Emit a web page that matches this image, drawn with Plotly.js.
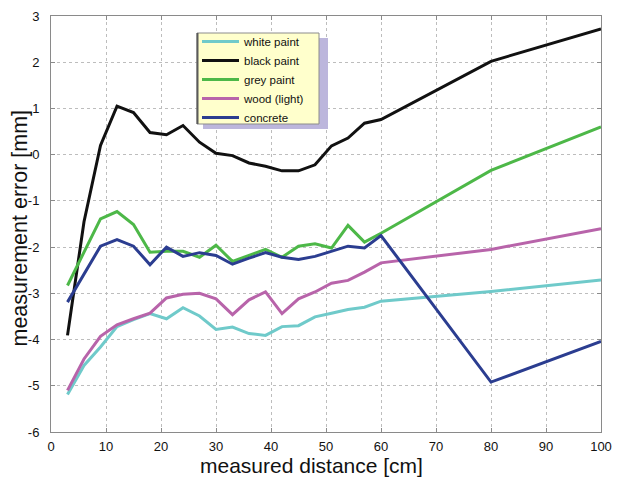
<!DOCTYPE html>
<html>
<head>
<meta charset="utf-8">
<script src="https://cdn.plot.ly/plotly-3.0.1.min.js"></script>
<style>html,body{margin:0;padding:0;background:#fff;}#chart{width:626px;height:477px;}</style>
</head>
<body>
<div id="chart"></div>
<script>
const distance = [3, 6, 9, 12, 15, 18, 21, 24, 27, 30, 33, 36, 39, 42, 45, 48, 51, 54, 57, 60, 80, 100];
const whitePaint = [-5.19, -4.56, -4.16, -3.72, -3.57, -3.44, -3.55, -3.31, -3.49, -3.78, -3.73, -3.87, -3.91, -3.72, -3.70, -3.51, -3.43, -3.35, -3.30, -3.17, -2.96, -2.71];
const blackPaint = [-3.91, -1.45, 0.20, 1.05, 0.91, 0.48, 0.43, 0.63, 0.27, 0.03, -0.02, -0.18, -0.25, -0.35, -0.35, -0.22, 0.19, 0.36, 0.68, 0.76, 2.02, 2.72];
const greyPaint = [-2.83, -2.10, -1.39, -1.23, -1.51, -2.11, -2.09, -2.09, -2.22, -1.96, -2.31, -2.18, -2.05, -2.22, -1.98, -1.93, -2.02, -1.53, -1.89, -1.70, -0.34, 0.60];
const woodLight = [-5.10, -4.42, -3.93, -3.68, -3.55, -3.43, -3.10, -3.02, -3.00, -3.12, -3.46, -3.14, -2.97, -3.44, -3.12, -2.97, -2.78, -2.72, -2.54, -2.34, -2.05, -1.60];
const concrete = [-3.19, -2.58, -1.98, -1.84, -1.98, -2.38, -2.00, -2.20, -2.12, -2.18, -2.37, -2.24, -2.12, -2.22, -2.27, -2.20, -2.09, -1.98, -2.02, -1.75, -4.92, -4.04];

const seriesNames = ["white paint", "black paint", "grey paint", "wood (light)", "concrete"];
const seriesValues = [whitePaint, blackPaint, greyPaint, woodLight, concrete];
const seriesColors = ["#6fcaca", "#111111", "#4db848", "#b864aa", "#2b3d90"];

const xTicks = [0, 10, 20, 30, 40, 50, 60, 70, 80, 90, 100];
const yTicks = [-6, -5, -4, -3, -2, -1, 0, 1, 2, 3];
const xTitle = "measured distance [cm]";
const yTitle = "measurement error [mm]";

const traces = seriesNames.map((n, i) => ({
  type: "scatter", mode: "lines", name: n,
  x: distance, y: seriesValues[i],
  line: {color: seriesColors[i], width: 3}
}));

const W = 626, H = 477, ML = 51, MR = 25, MT = 16, MB = 45;
const PW = W - ML - MR, PH = H - MT - MB;
const px = v => (v - ML) / PW;          // pixel x -> paper x
const py = v => (H - MB - v) / PH;      // pixel y -> paper y

const FONT = "Liberation Sans, Arial, sans-serif";
const axisCommon = {
  showline: true, linecolor: "#8a8a8a", linewidth: 1, mirror: "ticks",
  ticks: "inside", ticklen: 4, tickcolor: "#8a8a8a",
  showgrid: true, gridcolor: "#bdbdbd", griddash: "dot", gridwidth: 1,
  zeroline: false, tickfont: {family: FONT, size: 13, color: "#111"}
};

const layout = {
  width: W, height: H,
  margin: {l: ML, r: MR, t: MT, b: MB},
  paper_bgcolor: "#ffffff", plot_bgcolor: "#ffffff",
  font: {family: FONT, color: "#111"},
  xaxis: Object.assign({}, axisCommon, {
    range: [0, 100], tickvals: xTicks, ticktext: xTicks.map(String),
    ticklabelstandoff: 2
  }),
  yaxis: Object.assign({}, axisCommon, {
    range: [-6, 3], tickvals: yTicks, ticktext: yTicks.map(String),
    ticklabelstandoff: 8
  }),
  annotations: [
    {text: xTitle, xref: "paper", yref: "paper", x: px(311), y: py(465),
     xanchor: "center", yanchor: "middle", showarrow: false,
     font: {family: FONT, size: 21, color: "#111"}},
    {text: yTitle, xref: "paper", yref: "paper", x: px(19.5), y: py(228),
     xanchor: "center", yanchor: "middle", showarrow: false, textangle: -90,
     font: {family: FONT, size: 21.5, color: "#111"}}
  ],
  showlegend: true,
  legend: {
    x: px(197), y: py(27), xanchor: "left", yanchor: "top",
    bgcolor: "rgba(0,0,0,0)", borderwidth: 0,
    font: {family: FONT, size: 11.5, color: "#111"},
    itemwidth: 37, tracegroupgap: 0
  },
  shapes: [
    {type: "rect", xref: "paper", yref: "paper", layer: "above",
     x0: px(203), x1: px(328), y0: py(129), y1: py(38),
     fillcolor: "#bcb6dc", line: {width: 0}},
    {type: "rect", xref: "paper", yref: "paper", layer: "above",
     x0: px(197), x1: px(319), y0: py(124), y1: py(33),
     fillcolor: "#ffffcc", line: {color: "#8c8c8c", width: 1}},
    {type: "line", xref: "paper", yref: "paper", layer: "above",
     x0: px(197.5), x1: px(197.5), y0: py(124), y1: py(33),
     line: {color: "#5a5a5a", width: 2}}
  ]
};

Plotly.newPlot("chart", traces, layout, {staticPlot: true, displayModeBar: false});
</script>
</body>
</html>
